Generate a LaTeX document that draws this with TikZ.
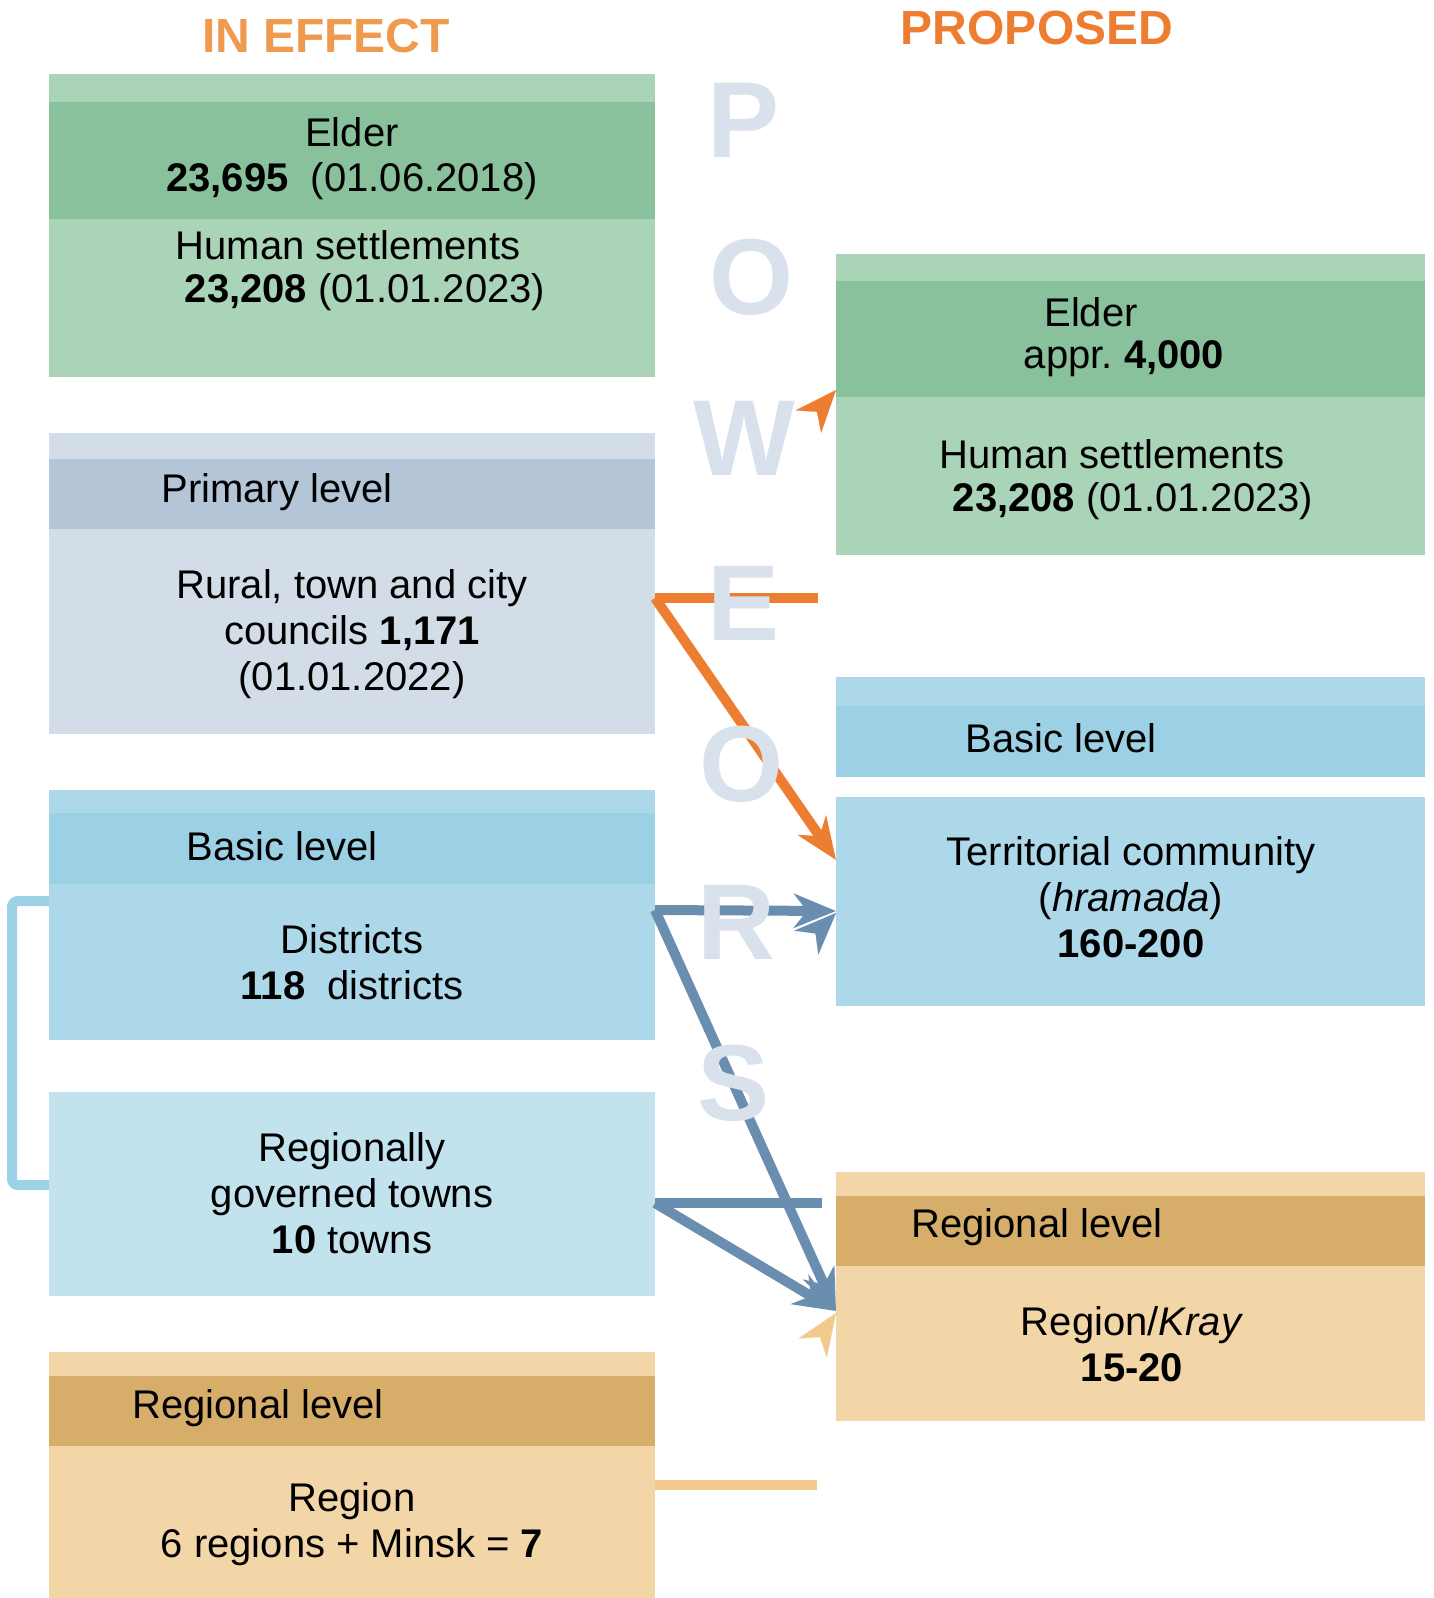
\documentclass[tikz,border=0pt]{standalone}
\usepackage{fontspec}
\setmainfont{Liberation Sans}
\usepackage{tikz}
\usetikzlibrary{calc}
\usetikzlibrary{arrows.meta, positioning}

\definecolor{grnlt}{HTML}{A9D4B7}
\definecolor{grndk}{HTML}{88C19B}
\definecolor{gbllt}{HTML}{D3DDE8}
\definecolor{gbldk}{HTML}{B3C5D6}
\definecolor{blult}{HTML}{ADD8E9}
\definecolor{bludk}{HTML}{9CD0E4}
\definecolor{blupale}{HTML}{C2E2EE}
\definecolor{tanlt}{HTML}{F2D6A7}
\definecolor{tandk}{HTML}{D6AD69}
\definecolor{orng}{HTML}{ED7D31}
\definecolor{orngsoft}{HTML}{F09A4F}
\definecolor{steel}{HTML}{6A8EAF}
\definecolor{sand}{HTML}{F1CA8C}
\definecolor{brack}{HTML}{9DD1E5}
\definecolor{ghost}{HTML}{D9E2EC}

\begin{document}
\begin{tikzpicture}[x=1pt,y=-1pt,
  txt/.style={align=center,font=\fontsize{40}{46}\selectfont,inner sep=0pt},
  ttl/.style={font=\fontsize{48}{56}\selectfont\bfseries,inner sep=0pt},
  letr/.style={text=ghost,font=\fontsize{108}{110}\selectfont\bfseries,inner sep=0pt},
  link/.style={line width=10pt},
  head/.style={-{Stealth[length=42pt,width=34pt,inset=13pt]}},
  lonehead/.style={line width=0.1pt,-{Stealth[length=42pt,width=34pt,inset=13pt,line width=0.1pt]}}]
\useasboundingbox (0,0) rectangle (1433,1598);
% titles
\node[ttl,text=orngsoft] (ineff) at (326,36) {IN EFFECT};
\node[ttl,text=orng] (propd) at (1037,28) {PROPOSED};
% left column
\fill [grnlt] (49,74) rectangle (655,377);
\fill [grndk] (49,102) rectangle (655,219);
\fill [gbllt] (49,433) rectangle (655,734);
\fill [gbldk] (49,459) rectangle (655,529);
\fill [blult] (49,790) rectangle (655,1040);
\fill [bludk] (49,813) rectangle (655,884);
\fill [blupale] (49,1092) rectangle (655,1296);
\fill [tanlt] (49,1352) rectangle (655,1598);
\fill [tandk] (49,1376) rectangle (655,1446);
% right column
\fill [grnlt] (836,254) rectangle (1425,555);
\fill [grndk] (836,281) rectangle (1425,397);
\fill [blult] (836,677) rectangle (1425,777);
\fill [bludk] (836,706) rectangle (1425,777);
\fill [blult] (836,797) rectangle (1425,1006);
\fill [tanlt] (836,1172) rectangle (1425,1421);
\fill [tandk] (836,1196) rectangle (1425,1266);
% texts, left
\node[txt] (eldL) at (352,132) {Elder};
\node[txt] (eldLn) at (352,181) {\textbf{23,695}\ \ (01.06.2018)};
\node[txt] (setL) at (348,245) {Human settlements};
\node[txt] (setLn) at (365,292) {\textbf{23,208} (01.01.2023)};
\node[txt] (primL) at (277,492) {Primary level};
\node[txt] (rurL) at (352,634) {Rural, town and city\\councils \textbf{1,171}\\(01.01.2022)};
\node[txt] (basL) at (282,846) {Basic level};
\node[txt] (disL) at (352,962) {Districts\\\textbf{118}\ \ districts};
\node[txt] (towL) at (352,1193) {Regionally\\governed towns\\\textbf{10} towns};
\node[txt] (regL) at (258,1408) {Regional level};
\node[txt] (rgnL) at (352,1524) {Region\\6 regions + Minsk = \textbf{7}};
% texts, right
\node[txt] (eldR) at (1091,312) {Elder};
\node[txt] (eldRn) at (1124,359) {appr.\ \textbf{4,000}};
\node[txt] (setR) at (1112,454) {Human settlements};
\node[txt] (setRn) at (1133,501) {\textbf{23,208} (01.01.2023)};
\node[txt] (basR) at (1061,738) {Basic level};
\node[txt] (comR) at (1131,897) {Territorial community\\(\textit{hramada})\\\textbf{160-200}};
\node[txt] (regR) at (1037,1227) {Regional level};
\node[txt] (rgnR) at (1132,1344) {Region/\textit{Kray}\\\textbf{15-20}};
% connector ends
\coordinate (oA) at (655,598);
\coordinate (oB) at (818,598);
\coordinate (oC) at (836,860);
\coordinate (oT) at (836,390);
\coordinate (bA) at (655,910);
\coordinate (bB) at (836,911);
\coordinate (bT) at (836,913);
\coordinate (bC) at (836,1311);
\coordinate (bD) at (655,1203);
\coordinate (bE) at (822,1203);
\coordinate (sT) at (836,1313);
\coordinate (sA) at (655,1485);
\coordinate (sB) at (817,1485);
% bracket
\draw [brack,line width=10pt,rounded corners=6pt] (49,901)--(12,901)--(12,1185)--(49,1185);
% orange
\draw [orng,link] (oA)--(oB);
\draw [orng,link,head] (oA)--(oC);
\draw [orng,lonehead] ($(oT)+(-14,16)$)--(oT);
% blue
\draw [steel,link,head] (bA)--(bB);
\draw [steel,lonehead] ($(bT)+(-14,14)$)--(bT);
\draw [steel,link,head] (bA)--(bC);
\draw [steel,link] (bD)--(bE);
\draw [steel,link,head] (bD)--(bC);
% tan
\draw [sand,lonehead] ($(sT)+(-12,18)$)--(sT);
\draw [sand,link] (sA)--(sB);
% POWERS
\node[letr] (p1) at (744,120) {P};
\node[letr] (p2) at (751,277) {O};
\node[letr] (p3) at (744,438) {W};
\node[letr] (p4) at (744,603) {E};
\node[letr] (p5) at (741,764) {O};
\node[letr] (p6) at (736,922) {R};
\node[letr] (p7) at (734,1083) {S};
\end{tikzpicture}
\end{document}
